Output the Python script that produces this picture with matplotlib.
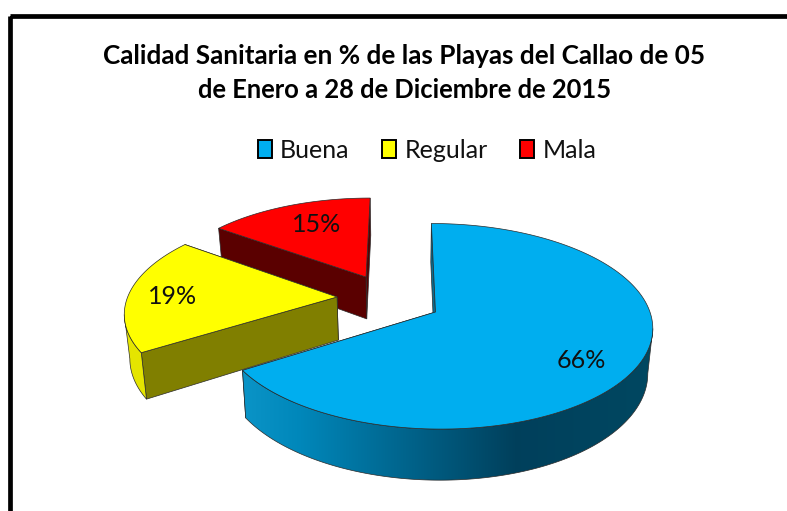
import numpy as np
import matplotlib
matplotlib.use("Agg")
import matplotlib.pyplot as plt
from matplotlib.patches import Polygon, Patch, Rectangle

# Data
categories = ["Buena", "Regular", "Mala"]
values = [66, 19, 15]
title_lines = ["Calidad Sanitaria en % de las Playas del Callao de 05",
               "de Enero a 28 de Diciembre de 2015"]

# Style
face_colors = ["#00AEEF", "#FFFF00", "#FF0000"]
wall_colors = ["#0B6C8E", "#807F00", "#5A0000"]
explode = [(0.155, 0.0), (-0.307, 0.151), (-0.175, 0.362)]
radius = [0.993, 0.99, 0.97]
label_pos = [(581, 361), (173, 297), (317, 224)]
CX, CY, RX, RY, K, DEPTH, SHRINK = 402, 312, 216, 101.5, 0.14, 44, 0.98
OUTLINE = "#2a2a2a"

plt.rcParams["font.family"] = ["Lato", "DejaVu Sans"]
fig = plt.figure(figsize=(7.87, 5.11), dpi=100, facecolor="white")
ax = fig.add_axes([0, 0, 1, 1])
ax.axis("off")


def project(x, y, z=0.0):
    w = 1 + K * y
    sx = CX + RX * x * (1 - (1 - SHRINK) * z) / w
    sy = CY - RY * y / w + DEPTH * z / w
    return np.array([sx, sy]).T


def side_gradient(i):
    px = np.arange(100, 700)
    if i == 0:
        stops = [243, 300, 515, 650]
        cols = [(0.04, 0.58, 0.78), (0.0, 0.53, 0.73), (0.0, 0.25, 0.36), (0.0, 0.28, 0.38)]
    else:
        stops = [100, 700]
        cols = [(0.90, 0.90, 0.0)] * 2
    return np.stack([np.interp(px, stops, [c[j] for c in cols]) for j in range(3)], axis=-1)[None, :, :]


starts = np.cumsum([0] + values[:-1]) / sum(values) * 2 * np.pi
ends = np.cumsum(values) / sum(values) * 2 * np.pi

# back-to-front: red, yellow, blue
for i in [2, 1, 0]:
    ox, oy = explode[i]
    th = np.linspace(starts[i], ends[i], 360)
    xs, ys = ox + radius[i] * np.sin(th), oy + radius[i] * np.cos(th)
    top = project(xs, ys)
    bot = project(xs, ys, 1)
    apex_t = project(np.array([ox]), np.array([oy]))[0]
    apex_b = project(np.array([ox]), np.array([oy]), 1)[0]
    z = 2 + (2 - i) * 3
    # radial walls, the one nearer the viewer last
    for k in sorted([0, -1], key=lambda e: top[e, 1]):
        ax.add_patch(Polygon([apex_t, top[k], bot[k], apex_b], closed=True,
                             facecolor=wall_colors[i], edgecolor=OUTLINE, lw=0.5, zorder=z))
    # rim wall, shaded across its width
    idx = np.nonzero(np.diff(top[:, 0]) < 0)[0]
    if i != 2 and len(idx):
        a, b = idx[0], idx[-1] + 2
        rim = Polygon(np.vstack([top[a:b], bot[a:b][::-1]]), closed=True, facecolor="none",
                      edgecolor=OUTLINE, lw=0.5, zorder=z + 0.2)
        ax.add_patch(rim)
        im = ax.imshow(side_gradient(i), extent=(100, 700, 511, 0), aspect="auto",
                       interpolation="bilinear", zorder=z + 0.1)
        im.set_clip_path(rim)
    # top face
    ax.add_patch(Polygon(np.vstack([apex_t, top]), closed=True, facecolor=face_colors[i],
                         edgecolor=OUTLINE, lw=0.5, zorder=z + 0.3, joinstyle="round"))
    ax.text(*label_pos[i], f"{values[i]}%", ha="center", va="center", fontsize=18,
            color="#111111", zorder=20)

ax.set_xlim(0, 787)
ax.set_ylim(511, 0)

# Frame (runs off the right and bottom of the picture)
ax.add_patch(Rectangle((10, 16.5), 900, 700, fill=False, edgecolor="black", lw=3.4, zorder=30))

# Title
ax.text(404.5, 55.5, title_lines[0], ha="center", va="center", fontsize=18.8, fontweight="bold",
        color="black", zorder=31)
ax.text(405, 90, title_lines[1], ha="center", va="center", fontsize=18.4, fontweight="bold",
        color="black", zorder=31)

# Legend
handles = [Patch(facecolor=c, edgecolor="black", lw=1.4) for c in face_colors]
ax.legend(handles, categories, ncol=3, frameon=False, fontsize=18,
          loc="center", bbox_to_anchor=(427 / 787, 1 - 150.5 / 511),
          handlelength=0.55, handleheight=0.75, handletextpad=0.34, columnspacing=1.3,
          borderpad=0, labelcolor="#111111")

fig.savefig("out.png", dpi=100, facecolor="white")
